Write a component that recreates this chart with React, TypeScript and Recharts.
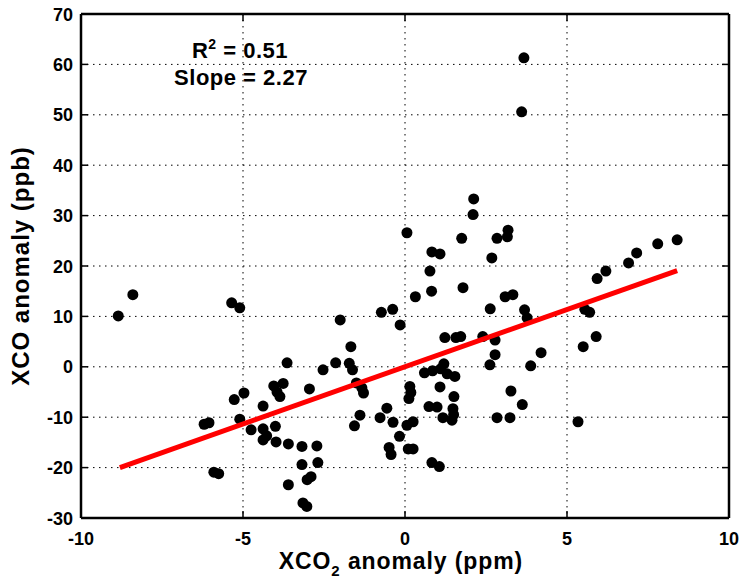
import { ScatterChart, Scatter, XAxis, YAxis, CartesianGrid } from "recharts";

// XCO2 anomaly (ppm) and XCO anomaly (ppb), point by point
const xco2 = [
  -8.85, -8.4, -5.35, -5.1, -6.2, -6.05, -5.9, -5.75, -5.27, -4.97,
  -5.1, -4.75, -4.38, -4.38, -4.27, -4.0, -3.98, -4.38, -3.6, -3.18,
  -2.72, -3.18, -2.69, -2.9, -3.02, -3.6, -3.15, -3.03, -3.64, -2.53,
  -2.14, -4.05, -3.76, -3.95, -3.86, -2.95, -2.0, -1.67, -1.72, -1.62,
  -1.5, -1.33, -1.28, -0.73, -0.38, -0.15, 0.06, 0.32, 0.77, 0.82,
  0.83, 1.08, 1.75, 1.79, 2.12, 2.1, 2.68, 2.84, 3.18, 3.16,
  3.09, 3.33, 2.63, 3.69, 3.77, 3.67, 3.6, 1.23, 1.57, 1.72,
  2.4, 2.78, 2.62, 2.78, 3.88, 4.2, 5.5, 5.9, 5.55, 5.7,
  5.93, 6.2, 6.9, 7.15, 7.8, 8.4, 5.34, 3.27, 3.62, 2.84,
  3.24, -0.56, -1.39, -0.77, -0.37, -1.56, -0.17, 0.06, 0.25, -0.49,
  -0.43, 0.1, 0.25, 0.83, 1.06, 0.15, 0.18, 0.12, 0.6, 0.85,
  1.1, 1.2, 1.3, 1.54, 1.08, 1.51, 0.74, 0.99, 1.48, 1.5,
  1.17, 1.45,
];
const xco = [
  10.1, 14.3, 12.7, 11.7, -11.4, -11.1, -20.9, -21.2, -6.5, -5.2,
  -10.4, -12.5, -7.8, -12.3, -13.7, -11.8, -14.9, -14.5, -15.3, -15.8,
  -15.7, -19.4, -19.0, -21.8, -22.4, -23.4, -27.0, -27.7, 0.8, -0.6,
  0.8, -3.8, -3.3, -5.0, -5.9, -4.4, 9.3, 4.0, 0.7, -0.6,
  -3.2, -4.2, -5.2, 10.8, 11.4, 8.3, 26.6, 13.9, 19.0, 15.0,
  22.8, 22.4, 25.5, 15.7, 33.3, 30.2, 21.6, 25.5, 27.1, 25.8,
  13.9, 14.3, 11.5, 11.3, 9.7, 61.3, 50.6, 5.8, 5.8, 6.0,
  6.0, 5.3, 0.4, 2.4, 0.2, 2.8, 4.0, 6.0, 11.4, 10.8,
  17.5, 19.0, 20.6, 22.6, 24.4, 25.2, -10.9, -4.8, -7.5, -10.1,
  -10.1, -8.2, -9.6, -10.1, -11.0, -11.7, -13.8, -11.6, -10.9, -16.0,
  -17.4, -16.3, -16.3, -19.0, -19.8, -3.9, -5.1, -6.3, -1.2, -0.8,
  -0.4, 0.6, -1.4, -1.9, -4.0, -5.9, -7.9, -8.0, -8.3, -9.5,
  -10.1, -10.6,
];

// regression line end points
const fitX = [-8.8, 8.4];
const fitY = [-20.0, 19.1];

const xTicks = [-10, -5, 0, 5, 10];
const yTicks = [-30, -20, -10, 0, 10, 20, 30, 40, 50, 60, 70];

const points = xco2.map((x, i) => ({ x, y: xco[i] }));
const fitData = fitX.map((x, i) => ({ x, y: fitY[i] }));

const font = "'Liberation Sans', Arial, Helvetica, sans-serif";
const TICK = 7;

const BottomTick = ({ x, y, payload }: any) => (
  <g>
    <line x1={x} x2={x} y1={y} y2={y - TICK} stroke="#000" strokeWidth={1.5} />
    <text x={x} y={y + 27} textAnchor="middle" fontSize={18} fontWeight="bold" fontFamily={font} fill="#000">
      {payload.value}
    </text>
  </g>
);

const LeftTick = ({ x, y, payload }: any) => (
  <g>
    <line x1={x} x2={x + TICK} y1={y} y2={y} stroke="#000" strokeWidth={1.5} />
    <text x={x - 8} y={y + 6.5} textAnchor="end" fontSize={18} fontWeight="bold" fontFamily={font} fill="#000">
      {payload.value}
    </text>
  </g>
);

const TopTick = ({ x, y }: any) => (
  <line x1={x} x2={x} y1={y} y2={y + TICK} stroke="#000" strokeWidth={1.5} />
);

const RightTick = ({ x, y }: any) => (
  <line x1={x} x2={x - TICK} y1={y} y2={y} stroke="#000" strokeWidth={1.5} />
);

const Dot = ({ cx, cy }: any) => <circle cx={cx} cy={cy} r={5.5} fill="#000" />;
const NoDot = () => <g />;

export default function App() {
  const axisLine = { stroke: "#000", strokeWidth: 2.5 };
  return (
    <div style={{ position: "absolute", left: 0, top: 0, width: 741, height: 581, background: "#fff" }}>
      <ScatterChart width={741} height={581} margin={{ top: 13, right: 11, bottom: 0, left: 0 }}>
        <CartesianGrid xAxisId="b" yAxisId="l" stroke="#000" strokeDasharray="1.5 4.5" strokeWidth={1} />
        <XAxis
          xAxisId="b"
          dataKey="x"
          type="number"
          domain={[-10, 10]}
          ticks={xTicks}
          allowDataOverflow
          height={63}
          axisLine={axisLine}
          tickLine={false}
          tickSize={0}
          tickMargin={0}
          tick={<BottomTick />}
          interval={0}
        />
        <XAxis
          xAxisId="t"
          orientation="top"
          dataKey="x"
          type="number"
          domain={[-10, 10]}
          ticks={xTicks}
          allowDataOverflow
          height={1}
          axisLine={axisLine}
          tickLine={false}
          tickSize={0}
          tickMargin={0}
          tick={<TopTick />}
          interval={0}
        />
        <YAxis
          yAxisId="l"
          dataKey="y"
          type="number"
          domain={[-30, 70]}
          ticks={yTicks}
          allowDataOverflow
          width={81}
          axisLine={axisLine}
          tickLine={false}
          tickSize={0}
          tickMargin={0}
          tick={<LeftTick />}
          interval={0}
        />
        <YAxis
          yAxisId="r"
          orientation="right"
          dataKey="y"
          type="number"
          domain={[-30, 70]}
          ticks={yTicks}
          allowDataOverflow
          width={1}
          axisLine={axisLine}
          tickLine={false}
          tickSize={0}
          tickMargin={0}
          tick={<RightTick />}
          interval={0}
        />
        <Scatter xAxisId="b" yAxisId="l" data={points} shape={<Dot />} isAnimationActive={false} />
        <Scatter
          xAxisId="t"
          yAxisId="r"
          data={fitData}
          line={{ stroke: "#ff0000", strokeWidth: 5 }}
          lineType="joint"
          shape={<NoDot />}
          isAnimationActive={false}
        />
      </ScatterChart>
      <svg
        width={741}
        height={581}
        style={{ position: "absolute", left: 0, top: 0, pointerEvents: "none" }}
        fontFamily={font}
        fontWeight="bold"
        fill="#000"
      >
        <text x={240} y={58} textAnchor="middle" fontSize={22} letterSpacing={0.5}>
          R<tspan dy={-9} fontSize={14}>2</tspan>
          <tspan dy={9}> = 0.51</tspan>
        </text>
        <text x={241} y={85} textAnchor="middle" fontSize={22} letterSpacing={0.5}>
          Slope = 2.27
        </text>
        <text x={401} y={569} textAnchor="middle" fontSize={23} letterSpacing={0.9}>
          XCO<tspan dy={7} fontSize={15}>2</tspan>
          <tspan dy={-7}> anomaly (ppm)</tspan>
        </text>
        <text
          x={0}
          y={0}
          transform="translate(29, 266) rotate(-90)"
          textAnchor="middle"
          fontSize={24}
          letterSpacing={1}
        >
          XCO anomaly (ppb)
        </text>
      </svg>
    </div>
  );
}
